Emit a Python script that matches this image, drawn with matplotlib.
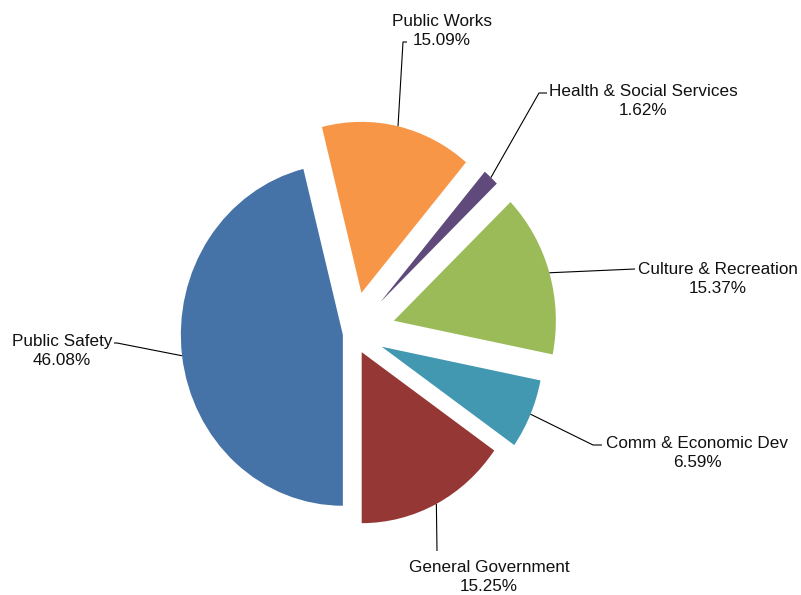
import numpy as np
import matplotlib.pyplot as plt

# 部門別の配分 (%)
categories = ["Public Safety", "Public Works", "Health & Social Services",
              "Culture & Recreation", "Comm & Economic Dev", "General Government"]
shares = [46.08, 15.09, 1.62, 15.37, 6.59, 15.25]
colors = ["#4572A7", "#F79646", "#604A7B", "#9BBB59", "#4298B0", "#953735"]
explode = [0.06, 0.244, 0.25, 0.266, 0.196, 0.123]

W, H = 801, 595
CX, CY = 352.5, 333.5   # pie centre, pixels from top-left
RX, RY = 162.0, 171.0   # pie is slightly squashed sideways

# label anchors (centre of the percentage line's baseline) and leader elbows,
# pixels from top-left
label_pos = [(62, 365), (442, 45), (643, 115), (718, 293), (697, 467), (489, 591)]
leader_pts = [[(117, 343), (114, 343)],
              [(403, 42), (407, 42)],
              [(539, 93), (547, 93)],
              [(635, 269)],
              [(593, 445), (602, 445)],
              [(437, 551)]]


def px(p):
    return (p[0] - CX) / RX, (CY - p[1]) / RY


fig = plt.figure(figsize=(W / 100, H / 100), dpi=100)
ax = fig.add_axes([0, 0, 1, 1])
wedges, _ = ax.pie(shares, colors=colors, explode=explode, startangle=270,
                   counterclock=False, radius=1.0,
                   wedgeprops=dict(linewidth=0))
ax.set_xlim(-CX / RX, (W - CX) / RX)
ax.set_ylim(-(H - CY) / RY, CY / RY)
ax.set_aspect('auto')
ax.axis('off')

for w, cat, val, lp, pts in zip(wedges, categories, shares, label_pos, leader_pts):
    # leader starts on the rim at the middle of the slice
    mid = np.radians((w.theta1 + w.theta2) / 2)
    sx = w.center[0] + np.cos(mid)
    sy = w.center[1] + np.sin(mid)
    xs = [sx] + [px(p)[0] for p in pts]
    ys = [sy] + [px(p)[1] for p in pts]
    ax.plot(xs, ys, color='black', lw=0.8, solid_capstyle='butt')
    tx, ty = px(lp)
    ax.text(tx, ty, f"{cat}\n{val:.2f}%", ha='center', va='baseline',
            multialignment='center', linespacing=1.32,
            fontsize=12.3, family='Liberation Sans', color='#111111')

fig.savefig('out.png', dpi=100)
